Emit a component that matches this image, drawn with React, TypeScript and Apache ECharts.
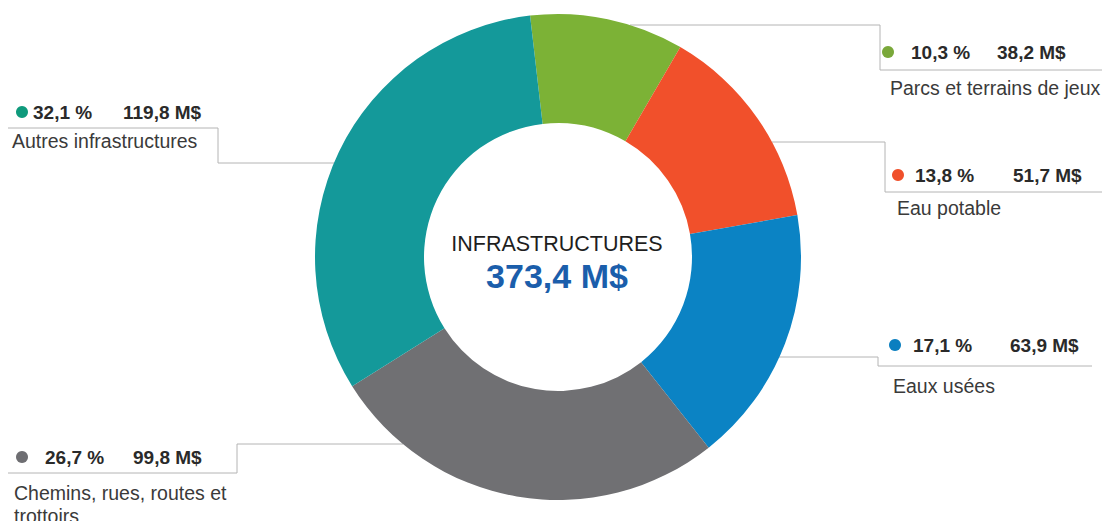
import React, { useEffect, useRef } from "react";
import * as echarts from "echarts";

const categories = [
  "Parcs et terrains de jeux",
  "Eau potable",
  "Eaux usées",
  "Chemins, rues, routes et\ntrottoirs",
  "Autres infrastructures",
];
const amounts = [38.2, 51.7, 63.9, 99.8, 119.8];
const percentLabels = ["10,3 %", "13,8 %", "17,1 %", "26,7 %", "32,1 %"];
const colors = ["#7cb236", "#f1502b", "#0b83c4", "#707073", "#14999a"];
const dotColors = ["#7aa83a", "#f0502b", "#0b7fc0", "#6e6e72", "#0f9a7c"];
const centerTitle = "INFRASTRUCTURES";
const centerTotal = "373,4 M$";

// layout of the annotation blocks (positions only)
const labelLayout = [
  { dot: [888, 52], pct: 911, amt: 997, name: [890, 88], line: [[630, 25], [880, 25], [880, 70], [1102, 70]] },
  { dot: [898, 175], pct: 915, amt: 1013, name: [897, 208], line: [[772, 142], [885, 142], [885, 192], [1102, 192]] },
  { dot: [895, 345], pct: 913, amt: 1010, name: [893, 386], line: [[779, 357], [878, 357], [878, 366], [1092, 366]] },
  { dot: [22, 457], pct: 45, amt: 133, name: [14, 504], line: [[8, 473], [237, 473], [237, 444], [403, 444]] },
  { dot: [22, 112], pct: 33, amt: 123, name: [12, 141], line: [[8, 128], [218, 128], [218, 163], [334, 163]] },
];

const FONT = "'Liberation Sans', Arial, sans-serif";

function fmtAmount(v: number) {
  return v.toFixed(1).replace(".", ",") + " M$";
}

export default function App() {
  const ref = useRef<HTMLDivElement>(null);
  useEffect(() => {
    if (!ref.current) return;
    const chart = echarts.init(ref.current, undefined, { renderer: "svg" });
    const graphics: any[] = [];
    labelLayout.forEach((l, i) => {
      graphics.push({
        type: "polyline",
        silent: true,
        z: 1,
        shape: { points: l.line },
        style: { stroke: "#b4b4b4", lineWidth: 1, fill: null },
      });
      graphics.push({
        type: "circle",
        silent: true,
        shape: { cx: l.dot[0], cy: l.dot[1], r: 6 },
        style: { fill: dotColors[i] },
      });
      graphics.push({
        type: "text",
        silent: true,
        style: {
          text: percentLabels[i],
          x: l.pct,
          y: l.dot[1],
          fill: "#2a2a2a",
          font: `bold 19px ${FONT}`,
          textAlign: "left",
          textVerticalAlign: "middle",
        },
      });
      graphics.push({
        type: "text",
        silent: true,
        style: {
          text: fmtAmount(amounts[i]),
          x: l.amt,
          y: l.dot[1],
          fill: "#2a2a2a",
          font: `bold 19px ${FONT}`,
          textAlign: "left",
          textVerticalAlign: "middle",
        },
      });
      graphics.push({
        type: "text",
        silent: true,
        style: {
          text: categories[i],
          x: l.name[0],
          y: l.name[1],
          fill: "#3a3a3a",
          font: `19.5px ${FONT}`,
          lineHeight: 23,
          textAlign: "left",
          textVerticalAlign: "middle",
        },
      });
    });
    graphics.push({
      type: "text",
      silent: true,
      style: {
        text: centerTitle,
        x: 557,
        y: 244,
        fill: "#1e1e1e",
        font: `21.5px ${FONT}`,
        textAlign: "center",
        textVerticalAlign: "middle",
      },
    });
    graphics.push({
      type: "text",
      silent: true,
      style: {
        text: centerTotal,
        x: 557,
        y: 276,
        fill: "#1b5eab",
        font: `bold 34px ${FONT}`,
        textAlign: "center",
        textVerticalAlign: "middle",
      },
    });

    chart.setOption({
      animation: false,
      backgroundColor: "#ffffff",
      graphic: graphics,
      series: [
        {
          type: "pie",
          z: 5,
          center: [558, 257],
          radius: [134, 243],
          startAngle: 96.6,
          clockwise: true,
          label: { show: false },
          labelLine: { show: false },
          emphasis: { disabled: true },
          itemStyle: { borderWidth: 0 },
          data: categories.map((c, i) => ({
            name: c,
            value: amounts[i],
            itemStyle: { color: colors[i] },
          })),
        },
      ],
    });
    return () => chart.dispose();
  }, []);
  return (
    <div
      ref={ref}
      style={{ position: "fixed", left: 0, top: 0, width: 1102, height: 521 }}
    />
  );
}
